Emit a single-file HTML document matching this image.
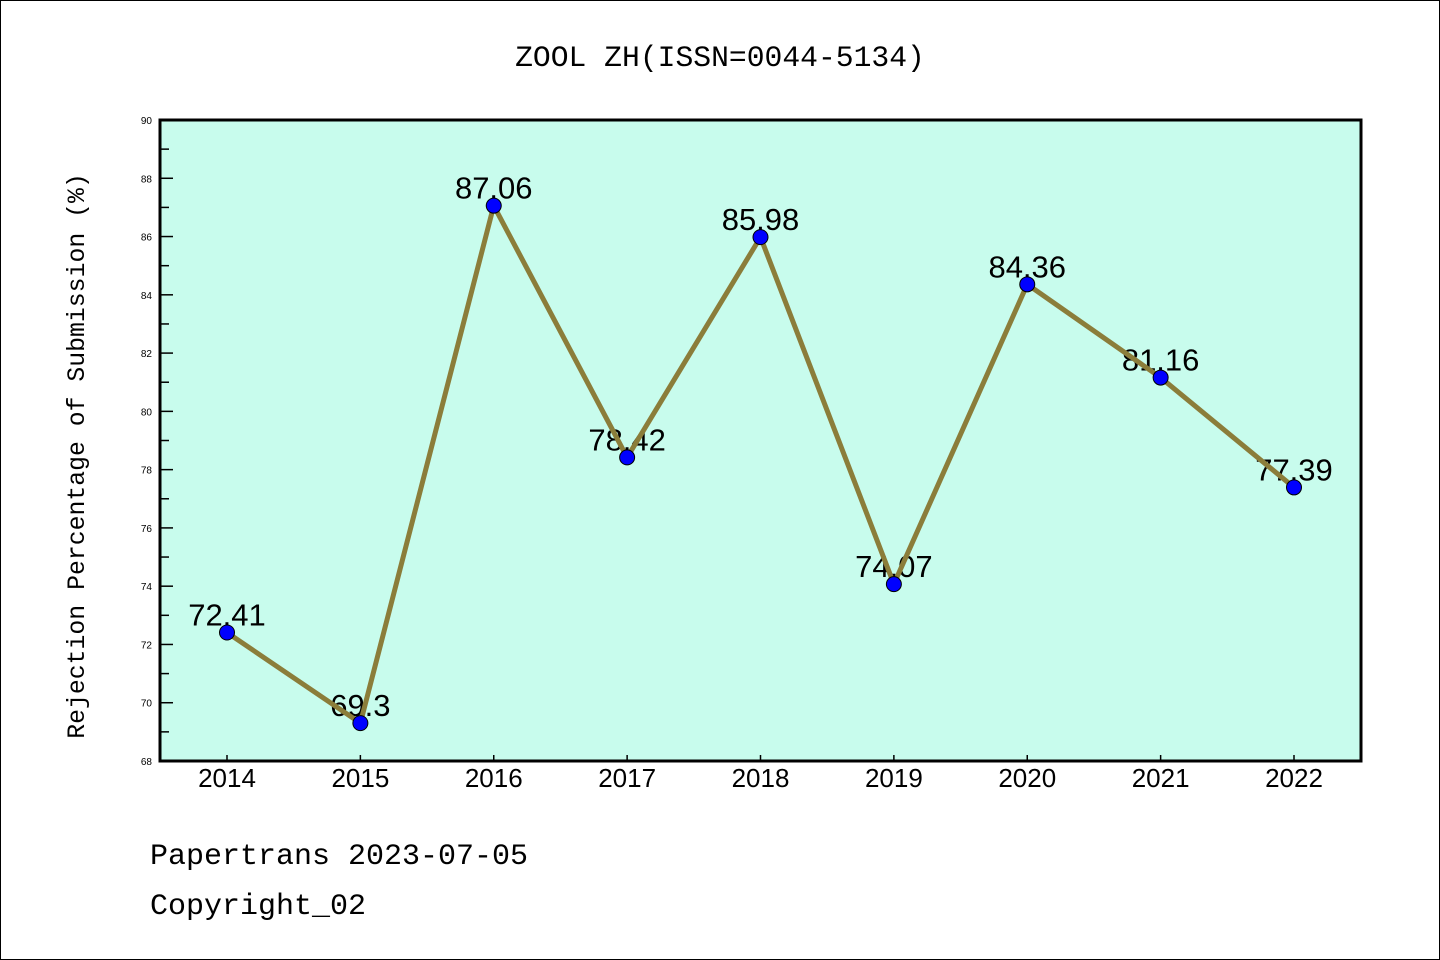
<!DOCTYPE html>
<html><head><meta charset="utf-8"><style>
html,body{margin:0;padding:0;background:#fff;}
svg{display:block;font-family:"Liberation Sans","Noto Sans CJK SC",sans-serif;}
</style></head><body>
<svg id="chart" width="1440" height="960">
<rect x="0.5" y="0.5" width="1439" height="959" fill="#fff" stroke="#000"/>
<text x="720" y="66" text-anchor="middle" font-size="29.7" font-family="Liberation Mono,monospace">ZOOL ZH(ISSN=0044-5134)</text>
<rect x="160" y="120" width="1201" height="641" fill="#c8fced"/>
<g id="axes"></g>
<g id="marks"></g>
<rect x="160" y="120" width="1201" height="641" fill="none" stroke="#000" stroke-width="3"/>
<text transform="translate(84,456) rotate(-90)" text-anchor="middle" font-size="24.8" font-family="Liberation Mono,monospace">Rejection Percentage of Submission (%)</text>
<text x="150" y="864" font-size="30" font-family="Liberation Mono,monospace">Papertrans 2023-07-05</text>
<text x="150" y="914" font-size="30" font-family="Liberation Mono,monospace">Copyright_02</text>
</svg>
<script>
const years = ["2014","2015","2016","2017","2018","2019","2020","2021","2022"];
const values = [72.41,69.3,87.06,78.42,85.98,74.07,84.36,81.16,77.39];
const valueLabels = ["72.41","69.3","87.06","78.42","85.98","74.07","84.36","81.16","77.39"];
const yTicks = [68,70,72,74,76,78,80,82,84,86,88,90];
const NS="http://www.w3.org/2000/svg";
const x0=160,x1=1361,y0=120,y1=761,yMin=68,yMax=90;
function xs(i){return 227+i*(1294-227)/(years.length-1);}
function ys(v){return y1-(v-yMin)/(yMax-yMin)*(y1-y0);}
function mk(t,a,p){const e=document.createElementNS(NS,t);for(const k in a)e.setAttribute(k,a[k]);p.appendChild(e);return e;}
const axes=document.getElementById('axes'),marks=document.getElementById('marks');
yTicks.forEach((v,i)=>{
 const t=mk('line',{x1:x0,x2:x0+13,y1:ys(v),y2:ys(v),stroke:'#000','stroke-width':1.5},axes);
 
 
 const l=mk('text',{x:x0-8,y:ys(v)+4,'text-anchor':'end','font-size':10},axes);
 l.textContent=v;
 
 
 if(i<yTicks.length-1){
  const m=mk('line',{x1:x0,x2:x0+9,y1:ys(v+1),y2:ys(v+1),stroke:'#000','stroke-width':1.5},axes);
  
  
 }
});
years.forEach((yr,i)=>{
 const t=mk('line',{x1:xs(i),x2:xs(i),y1:y1,y2:y1-6,stroke:'#000','stroke-width':1.5},axes);
 
 
 const l=mk('text',{x:xs(i),y:y1+26,'text-anchor':'middle','font-size':26},axes);
 l.textContent=yr;
 
 
});
years.forEach((yr,i)=>{
 const l=mk('text',{x:xs(i),y:ys(values[i])-7,'text-anchor':'middle','font-size':31},marks);
 l.textContent=valueLabels[i];
 
 
});
const pl=mk('polyline',{points:values.map((v,i)=>xs(i)+','+ys(v)).join(' '),fill:'none',stroke:'#8b7d3a','stroke-width':5,'stroke-linejoin':'miter'},marks);


values.forEach((v,i)=>{
 const c=mk('circle',{cx:xs(i),cy:ys(v),r:7.5,fill:'#0000ff',stroke:'#000','stroke-width':1},marks);
 
 
});
</script>
</body></html>
